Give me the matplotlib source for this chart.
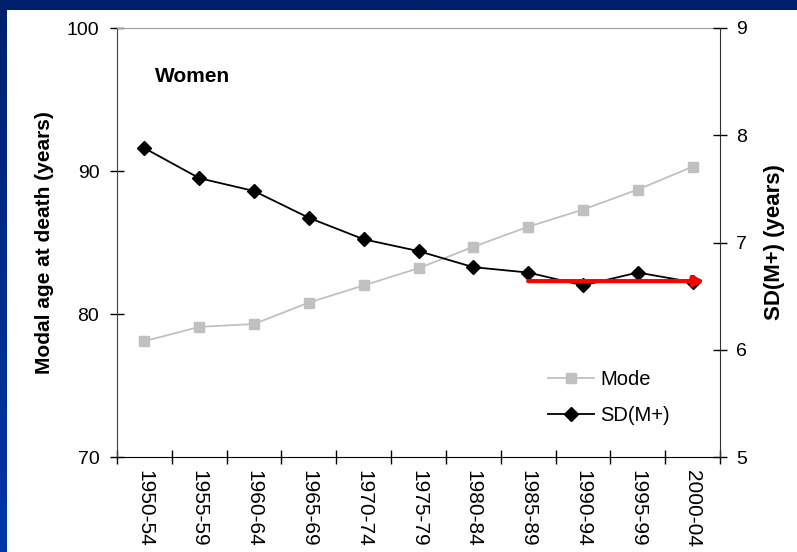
import matplotlib
matplotlib.use("Agg")
import matplotlib.pyplot as plt
import numpy as np
from matplotlib.colors import LinearSegmentedColormap
from matplotlib.lines import Line2D
from matplotlib.patches import Rectangle

plt.rcParams["font.family"] = ["Liberation Sans", "DejaVu Sans"]

periods = ["1950-54", "1955-59", "1960-64", "1965-69", "1970-74", "1975-79",
           "1980-84", "1985-89", "1990-94", "1995-99", "2000-04"]
mode_age = [78.1, 79.1, 79.3, 80.8, 82.0, 83.2, 84.7, 86.1, 87.3, 88.7, 90.3]
sd_mplus = [7.88, 7.60, 7.48, 7.23, 7.03, 6.92, 6.77, 6.72, 6.60, 6.72, 6.63]

# red arrow: from 1985-89 to past the last period, at the SD level
arrow_from = 7
arrow_to = 10.22
arrow_level = 6.64

fig = plt.figure(figsize=(7.97, 5.52), dpi=100)

# blue slide frame behind a white panel
bg = fig.add_axes([0, 0, 1, 1], zorder=-10)
grad = LinearSegmentedColormap.from_list("frame", ["#0036a8", "#00206b"])
bg.imshow(np.linspace(0, 1, 256).reshape(-1, 1), cmap=grad, aspect="auto",
          extent=[0, 1, 0, 1], origin="lower")
bg.add_patch(Rectangle((7 / 797, 0), 1, 1 - 10 / 552, color="white", lw=0))
bg.set_xlim(0, 1)
bg.set_ylim(0, 1)
bg.axis("off")

ax = fig.add_axes([117 / 797, 95 / 552, 603 / 797, 429 / 552])
ax.set_facecolor("none")
x = np.arange(len(periods))

ax.plot(x, mode_age, color="#c0c0c0", lw=1.3, marker="s", ms=7.5,
        mec="#c0c0c0", mfc="#c0c0c0", label="Mode")
ax.set_ylim(70, 100)
ax.set_yticks([70, 80, 90, 100])
ax.set_xlim(-0.5, len(periods) - 0.5)
ax.set_xticks(np.arange(-0.5, len(periods)))
ax.set_xticklabels([])
ax.set_xticks(x, minor=True)
ax.set_xticklabels(periods, minor=True, rotation=-90, fontsize=15)
ax.tick_params(axis="x", which="major", direction="inout", length=10,
               width=1, color="black")
ax.tick_params(axis="x", which="minor", length=0, pad=9)
ax.tick_params(axis="y", direction="inout", length=9.5, width=1,
               labelsize=14, pad=8)
ax.set_ylabel("Modal age at death (years)", fontsize=15, fontweight="bold",
              labelpad=9)
ax.spines["left"].set_color("#404040")
ax.spines["top"].set_color("#a0a0a0")
ax.spines["bottom"].set_color("black")
ax.spines["right"].set_visible(False)

ax2 = ax.twinx()
ax2.plot(x, sd_mplus, color="black", lw=1.3, marker="D", ms=7,
         label="SD(M+)")
ax2.set_ylim(5, 9)
ax2.set_yticks([5, 6, 7, 8, 9])
ax2.tick_params(axis="y", direction="inout", length=9.5, width=1,
                labelsize=14, pad=7)
ax2.set_ylabel("SD(M+) (years)", fontsize=16, fontweight="bold",
               labelpad=12)
ax2.spines["right"].set_color("#303030")
ax2.spines["top"].set_visible(False)
ax2.spines["left"].set_visible(False)
ax2.spines["bottom"].set_visible(False)

ax2.annotate("", xy=(arrow_to, arrow_level), xytext=(arrow_from, arrow_level),
             arrowprops=dict(arrowstyle="-|>", color="#ff0000", lw=3,
                             mutation_scale=15, shrinkA=0, shrinkB=0))

ax.text(0.063, 0.873, "Women", transform=ax.transAxes, fontsize=15,
        fontweight="bold")

handles = [
    Line2D([], [], color="#c0c0c0", lw=1.3, marker="s", ms=7.5,
           mec="#c0c0c0"),
    Line2D([], [], color="black", lw=1.3, marker="D", ms=7),
]
ax2.legend(handles, ["Mode", "SD(M+)"], loc="upper left",
           bbox_to_anchor=(0.715, 0.203), frameon=False, fontsize=14.5,
           borderpad=0, borderaxespad=0, handlelength=2.3,
           handletextpad=0.3, labelspacing=0.85)

fig.savefig("out.png", dpi=100)
